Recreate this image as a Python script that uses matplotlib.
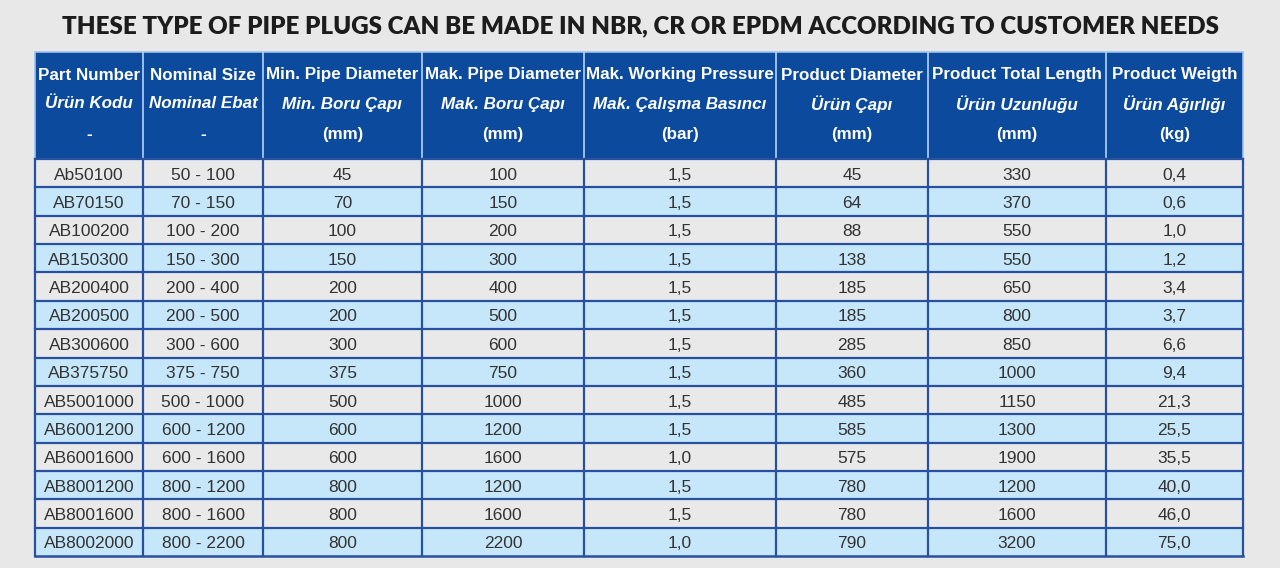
import matplotlib
matplotlib.use('Agg')
import matplotlib.pyplot as plt
from matplotlib.patches import Rectangle

title = 'THESE TYPE OF PIPE PLUGS CAN BE MADE IN NBR, CR OR EPDM ACCORDING TO CUSTOMER NEEDS'

head_en = ['Part Number', 'Nominal Size', 'Min. Pipe Diameter', 'Mak. Pipe Diameter',
           'Mak. Working Pressure', 'Product Diameter', 'Product Total Length', 'Product Weigth']
head_tr = ['Ürün Kodu', 'Nominal Ebat', 'Min. Boru Çapı', 'Mak. Boru Çapı',
           'Mak. Çalışma Basıncı', 'Ürün Çapı', 'Ürün Uzunluğu', 'Ürün Ağırlığı']
head_unit = ['-', '-', '(mm)', '(mm)', '(bar)', '(mm)', '(mm)', '(kg)']

part_no = ['Ab50100', 'AB70150', 'AB100200', 'AB150300', 'AB200400', 'AB200500', 'AB300600',
           'AB375750', 'AB5001000', 'AB6001200', 'AB6001600', 'AB8001200', 'AB8001600', 'AB8002000']
nominal = ['50 - 100', '70 - 150', '100 - 200', '150 - 300', '200 - 400', '200 - 500', '300 - 600',
           '375 - 750', '500 - 1000', '600 - 1200', '600 - 1600', '800 - 1200', '800 - 1600', '800 - 2200']
min_pipe = [45, 70, 100, 150, 200, 200, 300, 375, 500, 600, 600, 800, 800, 800]
max_pipe = [100, 150, 200, 300, 400, 500, 600, 750, 1000, 1200, 1600, 1200, 1600, 2200]
pressure = ['1,5'] * 10 + ['1,0', '1,5', '1,5', '1,0']
prod_dia = [45, 64, 88, 138, 185, 185, 285, 360, 485, 585, 575, 780, 780, 790]
prod_len = [330, 370, 550, 550, 650, 800, 850, 1000, 1150, 1300, 1900, 1200, 1600, 3200]
weight = ['0,4', '0,6', '1,0', '1,2', '3,4', '3,7', '6,6', '9,4', '21,3', '25,5', '35,5', '40,0', '46,0', '75,0']

columns = [part_no, nominal, min_pipe, max_pipe, pressure, prod_dia, prod_len, weight]

# layout (pixels)
col_edges = [35, 143, 263, 422, 584, 776, 928, 1106, 1243]
head_top, head_bot = 52, 159
body_bot = 556
n_rows = len(part_no)
row_h = (body_bot - head_bot) / n_rows

bg = '#e8e8e8'
head_blue = '#0b4a9c'
grid_blue = '#2850a0'
row_colors = ['#e9e9ea', '#c6e7f9']
font = ['Liberation Sans', 'DejaVu Sans']

fig = plt.figure(figsize=(12.8, 5.68), dpi=100, facecolor=bg)
ax = fig.add_axes([0, 0, 1, 1])
ax.set_xlim(0, 1280)
ax.set_ylim(568, 0)
ax.axis('off')

# title
t = ax.text(640, 26, title, ha='center', va='center', fontsize=16, fontweight='heavy',
            family=['Lato', 'DejaVu Sans'], color='#1c1c1c')
fig.canvas.draw()
w = t.get_window_extent().width
t.set_fontsize(16 * 1156 / w)

# header
x0, x1 = col_edges[0], col_edges[-1]
ax.add_patch(Rectangle((x0, head_top), x1 - x0, head_bot - head_top, facecolor=head_blue,
                       edgecolor='#9cc3ee', lw=1.2, zorder=1))
head_texts = []
for i in range(len(col_edges) - 1):
    cx = (col_edges[i] + col_edges[i + 1]) / 2
    a = ax.text(cx, 75, head_en[i], ha='center', va='center', color='white', fontsize=13,
                fontweight='bold', family=font)
    b = ax.text(cx, 104, head_tr[i], ha='center', va='center', color='white', fontsize=13,
                fontweight='bold', style='italic', family=font)
    c = ax.text(cx, 134, head_unit[i], ha='center', va='center', color='white', fontsize=13,
                fontweight='bold', family=font)
    head_texts += [(i, a), (i, b), (i, c)]
for xe in col_edges[1:-1]:
    ax.plot([xe, xe], [head_top, head_bot], color='#b5d3f3', lw=1.2, zorder=2)

# shrink header font so that every label fits its column
fig.canvas.draw()
scale = 1.0
for i, txt in head_texts:
    avail = col_edges[i + 1] - col_edges[i] - 5
    scale = min(scale, avail / txt.get_window_extent().width)
for i, txt in head_texts:
    txt.set_fontsize(13 * scale)

# body rows
for r in range(n_rows):
    y = head_bot + r * row_h
    ax.add_patch(Rectangle((x0, y), x1 - x0, row_h, facecolor=row_colors[r % 2],
                           edgecolor='none', zorder=1))
    for i, col in enumerate(columns):
        cx = (col_edges[i] + col_edges[i + 1]) / 2
        ax.text(cx, y + row_h / 2 + 2, str(col[r]), ha='center', va='center',
                color='#333333', fontsize=12.5, family=font, zorder=3)
    ax.plot([x0, x1], [y, y], color=grid_blue, lw=1.6, zorder=2)
ax.plot([x0, x1], [body_bot, body_bot], color=grid_blue, lw=1.8, zorder=2)
for xe in col_edges:
    ax.plot([xe, xe], [head_bot, body_bot], color=grid_blue, lw=1.6, zorder=2)

fig.savefig('out.png', dpi=100, facecolor=bg)
